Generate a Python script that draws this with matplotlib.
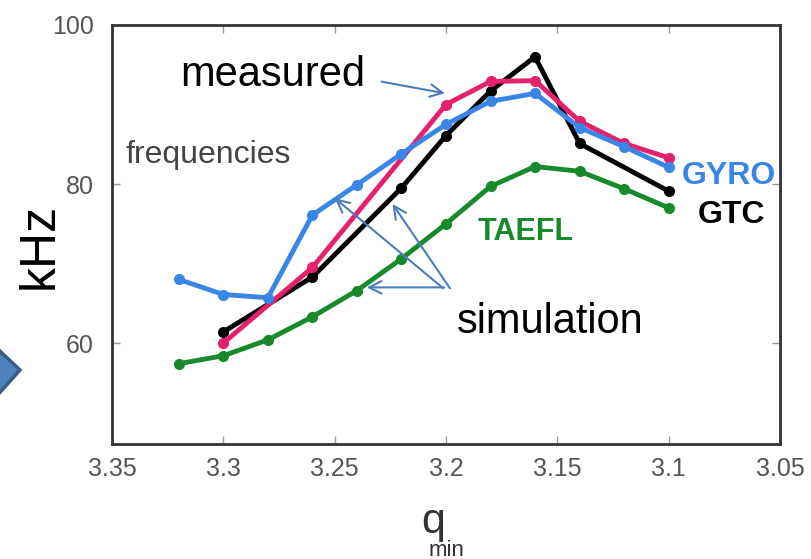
import matplotlib
matplotlib.use("Agg")
import matplotlib.pyplot as plt
from matplotlib.patches import Polygon

# ---- data ----
q_gyro = [3.32, 3.30, 3.28, 3.26, 3.24, 3.22, 3.20, 3.18, 3.16, 3.14, 3.12, 3.10]
f_gyro = [68.0, 66.1, 65.7, 76.1, 79.9, 83.8, 87.5, 90.4, 91.4, 87.1, 84.7, 82.1]

q_meas = [3.30, 3.26, 3.20, 3.18, 3.16, 3.14, 3.12, 3.10]
f_meas = [60.0, 69.5, 90.0, 92.9, 93.0, 87.9, 85.1, 83.3]

q_gtc = [3.30, 3.26, 3.22, 3.20, 3.18, 3.16, 3.14, 3.10]
f_gtc = [61.4, 68.3, 79.5, 86.1, 91.7, 96.0, 85.1, 79.1]

q_taefl = [3.32, 3.30, 3.28, 3.26, 3.24, 3.22, 3.20, 3.18, 3.16, 3.14, 3.12, 3.10]
f_taefl = [57.4, 58.4, 60.4, 63.3, 66.6, 70.6, 75.0, 79.7, 82.2, 81.6, 79.4, 77.0]

x_ticks = [3.35, 3.3, 3.25, 3.2, 3.15, 3.1, 3.05]
x_ticklabels = ["3.35", "3.3", "3.25", "3.2", "3.15", "3.1", "3.05"]
y_ticks = [60, 80, 100]
y_ticklabels = ["60", "80", "100"]

C_BLUE = "#3a86e6"
C_PINK = "#e5206c"
C_BLACK = "#000000"
C_GREEN = "#188a2c"
C_ARROW = "#4a7ebb"

NARROW = ["Liberation Sans Narrow", "Liberation Sans", "DejaVu Sans"]
SANS = ["Liberation Sans", "DejaVu Sans"]

fig = plt.figure(figsize=(8.12, 5.59), dpi=100)
ax = fig.add_axes([112 / 812, 1 - 444 / 559, (780 - 112) / 812, (444 - 25) / 559])

lw = 3.5
ms = 7
ax.plot(q_gtc, f_gtc, "-o", color=C_BLACK, lw=lw, ms=ms, zorder=3)
ax.plot(q_taefl, f_taefl, "-o", color=C_GREEN, lw=lw, ms=ms, zorder=3)
ax.plot(q_meas, f_meas, "-o", color=C_PINK, lw=lw, ms=ms, zorder=4)
ax.plot(q_gyro, f_gyro, "-o", color=C_BLUE, lw=lw, ms=ms, zorder=5)

ax.set_xlim(3.35, 3.05)
ax.set_ylim(47.3, 100)
ax.set_xticks(x_ticks)
ax.set_xticklabels(x_ticklabels, family=NARROW, fontsize=18, color="#555555")
ax.set_yticks(y_ticks)
ax.set_yticklabels(y_ticklabels, family=NARROW, fontsize=18, color="#555555")
ax.tick_params(direction="in", length=6, width=1, color="#999999",
               top=True, right=True)
ax.tick_params(axis="x", pad=9)
ax.tick_params(axis="y", pad=13)
for s in ax.spines.values():
    s.set_linewidth(2)
    s.set_color("#333333")

# annotations
ax.text(3.278, 93.7, "measured", fontsize=30, family=SANS, ha="center", va="center")
ax.text(3.1533, 62.6, "simulation", fontsize=30, family=SANS, ha="center", va="center")
ax.text(3.3069, 83.65, "frequencies", fontsize=23, family=NARROW, color="#444444",
        ha="center", va="center")
ax.text(3.0729, 81.0, "GYRO", fontsize=23, family=NARROW, weight="bold", color=C_BLUE,
        ha="center", va="center")
ax.text(3.072, 76.1, "GTC", fontsize=23, family=NARROW, weight="bold", color=C_BLACK,
        ha="center", va="center")
ax.text(3.1641, 73.96, "TAEFL", fontsize=22, family=NARROW, weight="bold", color=C_GREEN,
        ha="center", va="center")

arrow_kw = dict(arrowstyle="->,head_length=0.9,head_width=0.45", color=C_ARROW, lw=1.5,
                shrinkA=0, shrinkB=0)
ax.annotate("", xy=(3.2005, 91.41), xytext=(3.2289, 92.87), arrowprops=arrow_kw, zorder=6)
ax.annotate("", xy=(3.2499, 78.2), xytext=(3.2012, 66.88), arrowprops=arrow_kw, zorder=6)
ax.annotate("", xy=(3.2240, 77.48), xytext=(3.1982, 66.88), arrowprops=arrow_kw, zorder=6)
ax.annotate("", xy=(3.2356, 67.0), xytext=(3.2009, 67.0), arrowprops=arrow_kw, zorder=6)

# axis labels
fig.text(40 / 812, 1 - 246 / 559, "kHz", fontsize=36, family=SANS, rotation=90,
         ha="center", va="center")
fig.text(433 / 812, 1 - 522 / 559, "q", fontsize=31, family=NARROW, color="#333333",
         ha="center", va="center")
fig.text(446 / 812, 1 - 550 / 559, "min", fontsize=16, family=NARROW, color="#333333",
         ha="center", va="center")

# blue chevron at left edge (slide decoration)
H = 559
chev = Polygon([(-14, H - 338), (20, H - 370), (-14, H - 408)], closed=True,
               transform=None, facecolor="#4f81bd", edgecolor="#385d8a", lw=2.5,
               clip_on=False)
fig.patches.append(chev)

fig.savefig("out.png", dpi=100)
